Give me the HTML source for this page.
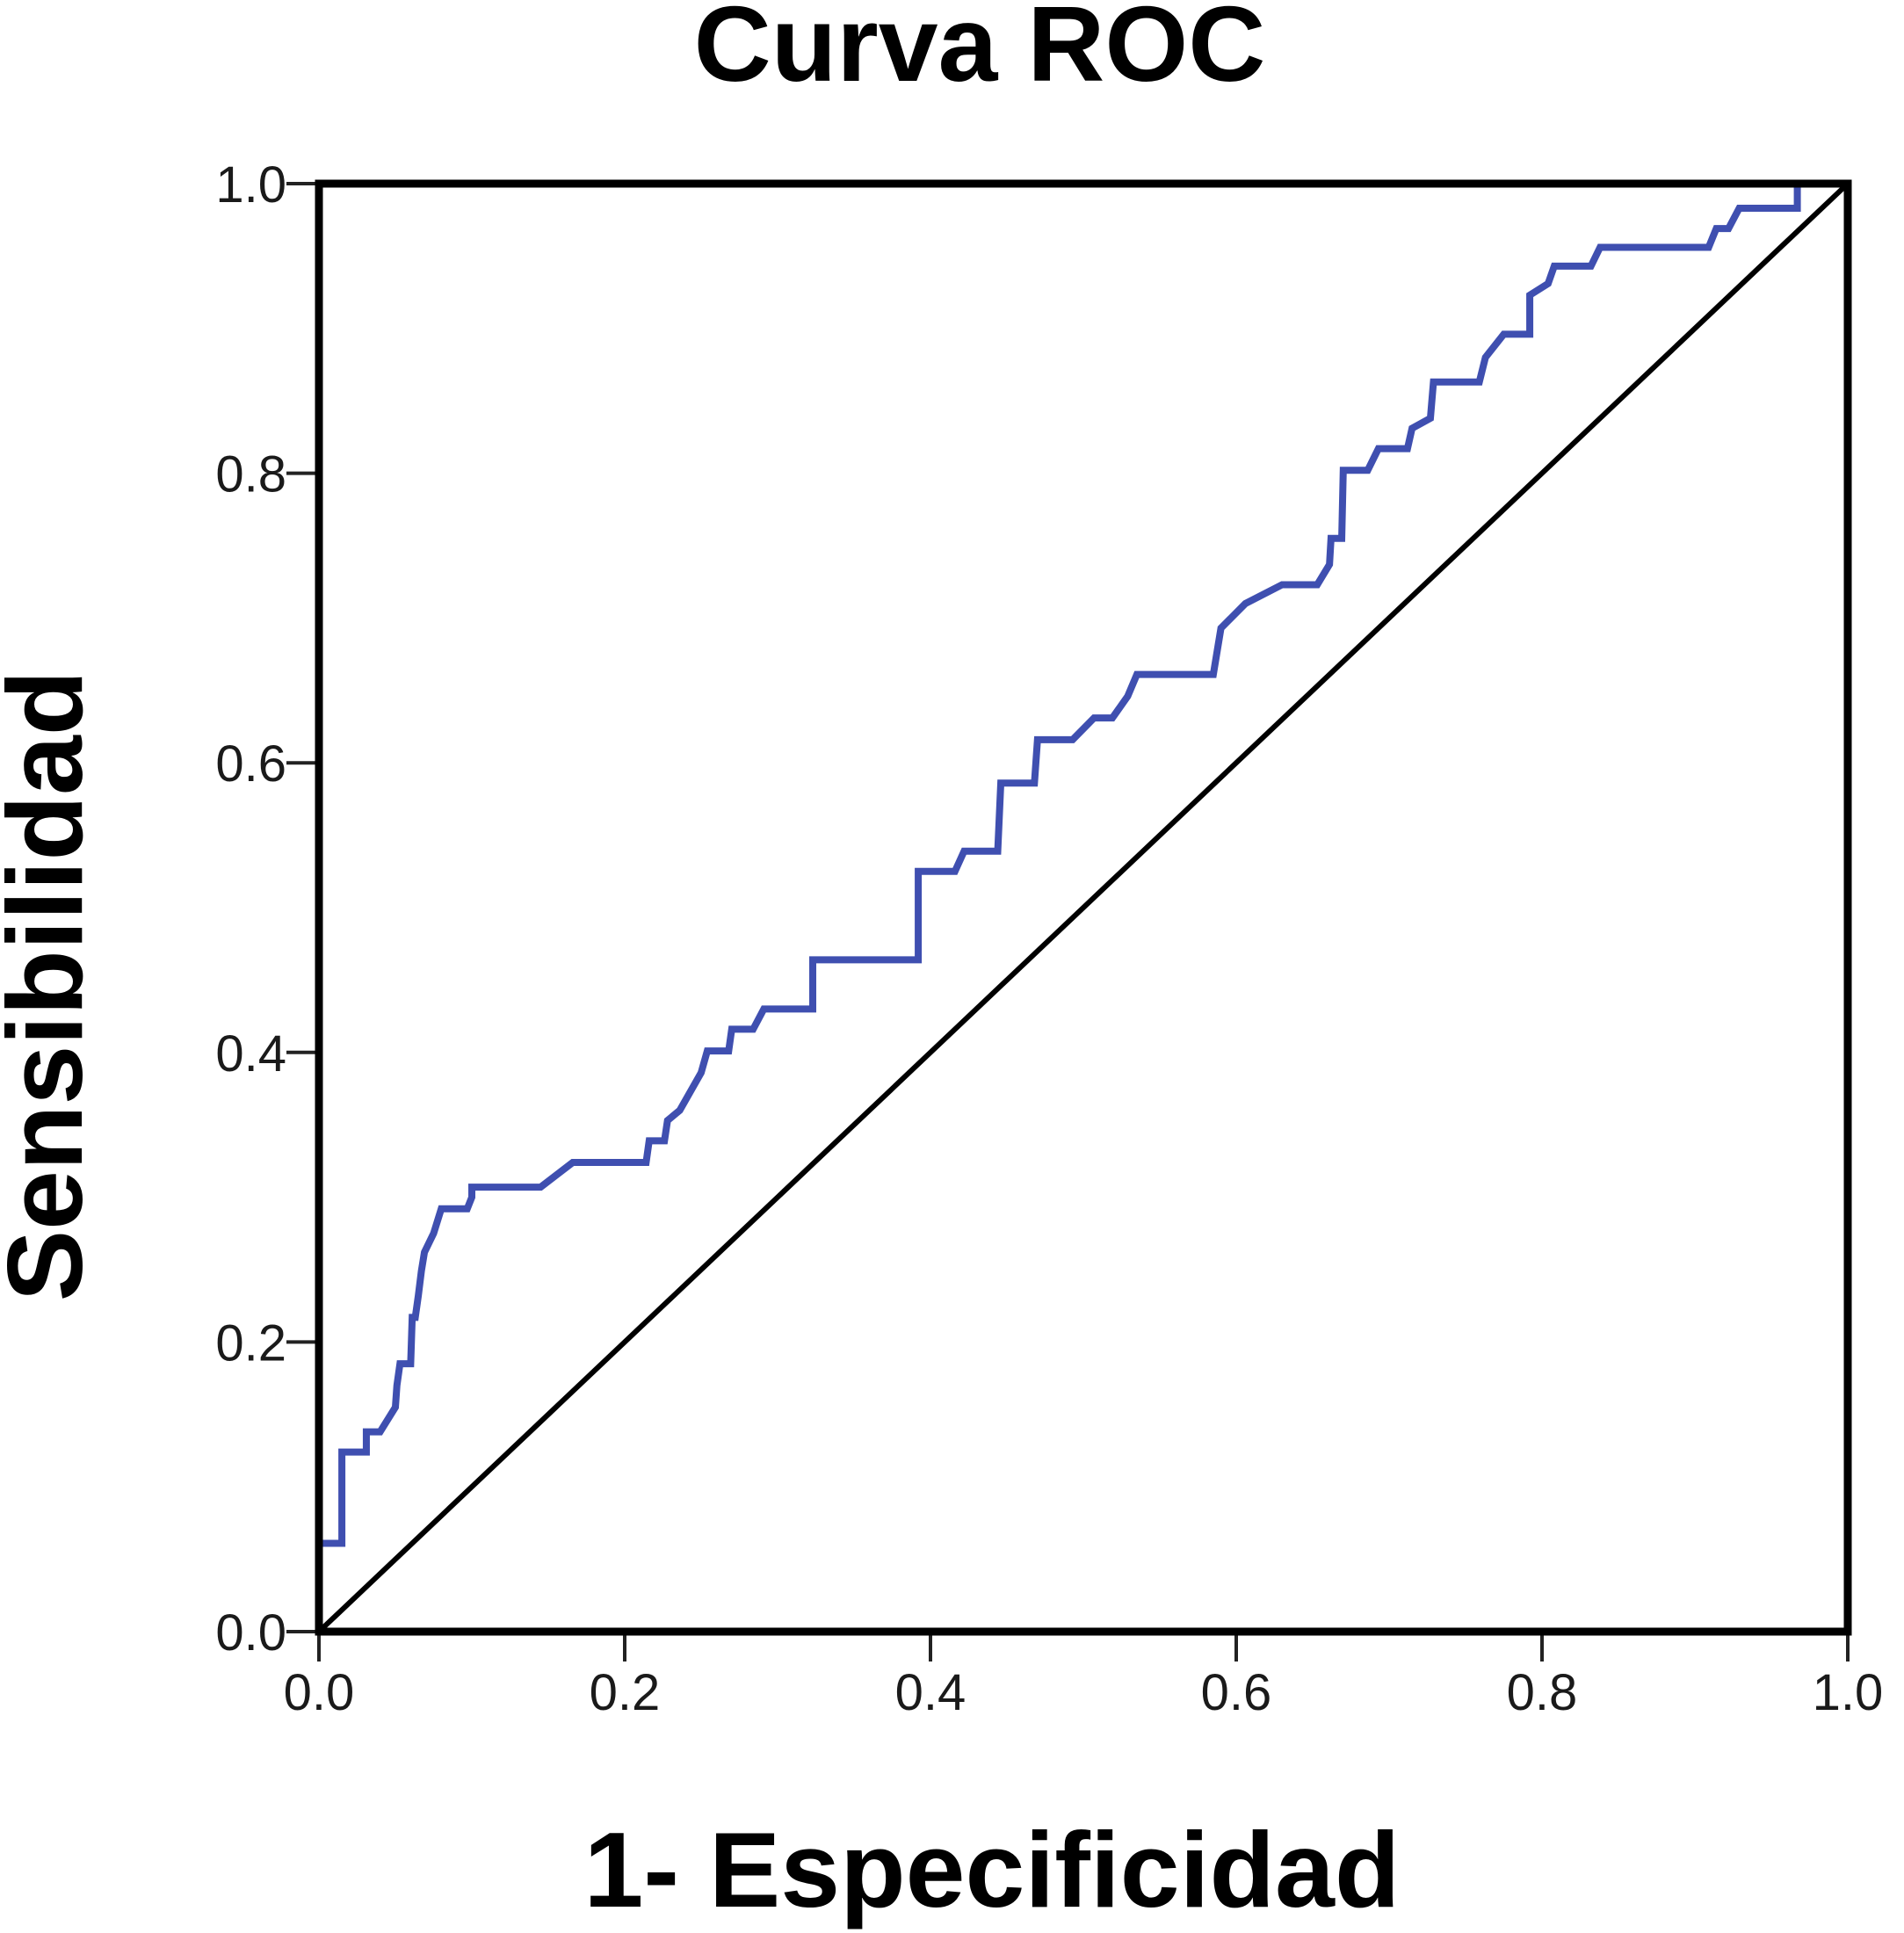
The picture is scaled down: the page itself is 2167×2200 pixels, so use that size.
<!DOCTYPE html>
<html><head><meta charset="utf-8"><style>
html,body{margin:0;padding:0;background:#fff;}
svg{display:block;font-family:"Liberation Sans",Arial,sans-serif;}
</style></head><body>
<svg id="chart" width="2167" height="2200" viewBox="0 0 2167 2200" xmlns="http://www.w3.org/2000/svg">
<text x="1115" y="92" text-anchor="middle" font-size="122" font-weight="bold">Curva ROC</text>
<text x="1129" y="2170" text-anchor="middle" font-size="122" font-weight="bold">1- Especificidad</text>
<text transform="translate(93,1122) rotate(-90)" text-anchor="middle" font-size="122" font-weight="bold">Sensibilidad</text>
<g id="ticks"></g>
<polyline id="roc" fill="none" stroke="#3f4fb0" stroke-width="8" stroke-linejoin="miter"/>
<line id="diag" stroke="#000" stroke-width="6"/>
<rect x="363" y="209" width="1740" height="1648" fill="none" stroke="#000" stroke-width="9"/>
</svg>
<script>
const tickValues = [0, 0.2, 0.4, 0.6, 0.8, 1.0];
const tickLabels = ["0.0", "0.2", "0.4", "0.6", "0.8", "1.0"];
const fpr = [0,0,0.015,0.015,0.031,0.031,0.040,0.050,0.051,0.053,0.060,0.061,0.063,0.065,0.067,0.069,0.075,0.080,0.097,0.100,0.100,0.145,0.166,0.214,0.216,0.226,0.228,0.236,0.250,0.254,0.268,0.270,0.284,0.291,0.323,0.323,0.392,0.392,0.416,0.422,0.444,0.446,0.468,0.470,0.493,0.507,0.519,0.529,0.535,0.585,0.590,0.606,0.630,0.653,0.661,0.662,0.669,0.670,0.686,0.693,0.712,0.715,0.727,0.729,0.759,0.763,0.775,0.792,0.792,0.804,0.808,0.832,0.838,0.909,0.914,0.922,0.929,0.967,0.967,1.0];
const tpr = [0,0.061,0.061,0.124,0.124,0.138,0.138,0.155,0.170,0.185,0.185,0.217,0.217,0.232,0.249,0.262,0.275,0.292,0.292,0.300,0.307,0.307,0.324,0.324,0.339,0.339,0.353,0.360,0.386,0.401,0.401,0.416,0.416,0.430,0.430,0.464,0.464,0.525,0.525,0.539,0.539,0.586,0.586,0.616,0.616,0.631,0.631,0.646,0.661,0.661,0.693,0.710,0.723,0.723,0.737,0.755,0.755,0.802,0.802,0.817,0.817,0.831,0.838,0.863,0.863,0.880,0.896,0.896,0.923,0.931,0.943,0.943,0.956,0.956,0.969,0.969,0.983,0.983,1.0,1.0];
const X0=363, X1=2103, Y0=1857, Y1=209;
function sx(v){return X0+v*(X1-X0);}
function sy(v){return Y0-v*(Y0-Y1);}
const NS="http://www.w3.org/2000/svg";
const g=document.getElementById('ticks');
tickValues.forEach((v,i)=>{
  let l=document.createElementNS(NS,'line');
  
  
  l.setAttribute('x1',sx(v));l.setAttribute('x2',sx(v));l.setAttribute('y1',Y0);l.setAttribute('y2',Y0+34);
  l.setAttribute('stroke','#222');l.setAttribute('stroke-width','4');g.appendChild(l);
  let t=document.createElementNS(NS,'text');
  
  
  t.setAttribute('x',sx(v));t.setAttribute('y',1946);t.setAttribute('text-anchor','middle');
  t.setAttribute('font-size','58');t.setAttribute('fill','#1a1a1a');t.textContent=tickLabels[i];g.appendChild(t);
  let l2=document.createElementNS(NS,'line');
  
  
  l2.setAttribute('x1',X0-37);l2.setAttribute('x2',X0);l2.setAttribute('y1',sy(v));l2.setAttribute('y2',sy(v));
  l2.setAttribute('stroke','#222');l2.setAttribute('stroke-width','4');g.appendChild(l2);
  let t2=document.createElementNS(NS,'text');
  
  
  t2.setAttribute('x',326);t2.setAttribute('y',sy(v)+21);t2.setAttribute('text-anchor','end');
  t2.setAttribute('font-size','58');t2.setAttribute('fill','#1a1a1a');t2.textContent=tickLabels[i];g.appendChild(t2);
});
document.getElementById('roc').setAttribute('points',fpr.map((f,i)=>sx(f)+','+sy(tpr[i])).join(' '));
const d=document.getElementById('diag');
d.setAttribute('x1',sx(0));d.setAttribute('y1',sy(0));d.setAttribute('x2',sx(1));d.setAttribute('y2',sy(1));
</script>
</body></html>
